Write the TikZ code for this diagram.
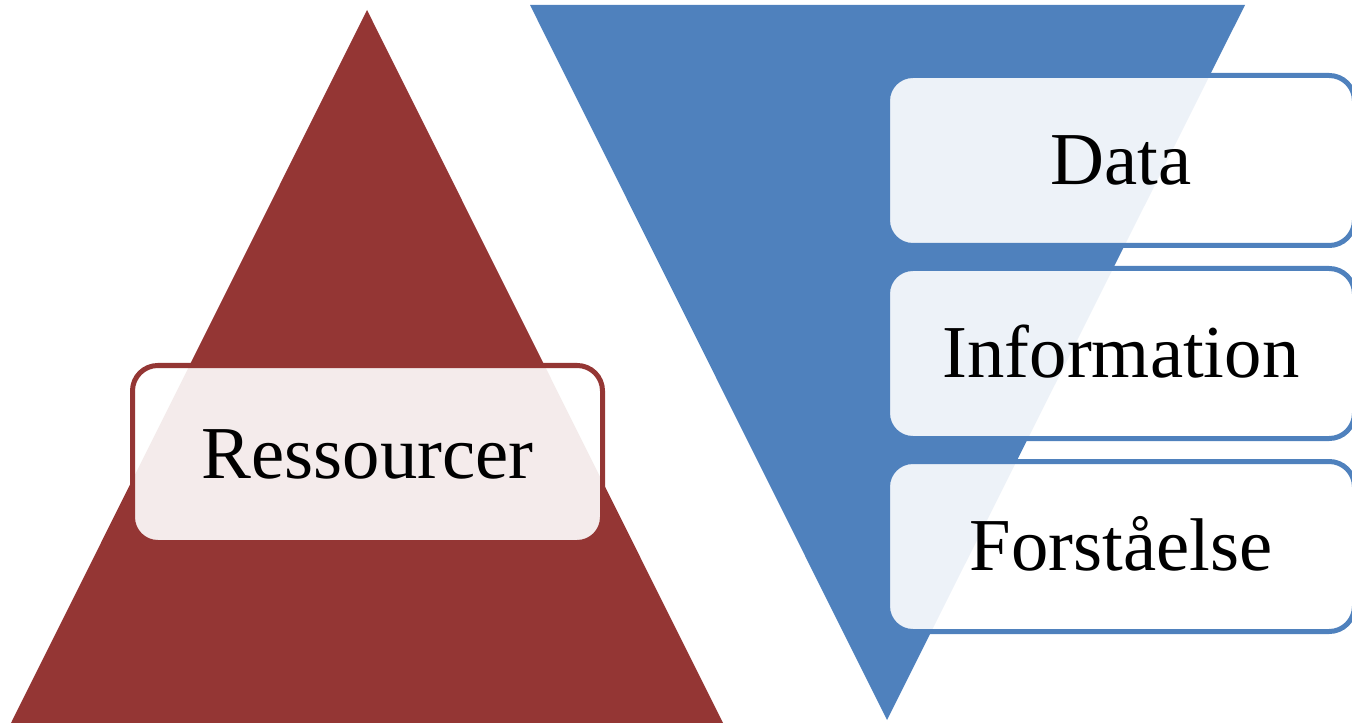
\documentclass[tikz,border=0pt]{standalone}
\usepackage{fontspec}
\setmainfont{Liberation Serif}
\definecolor{redtri}{HTML}{943634}
\definecolor{bluetri}{HTML}{4F81BD}
\tikzset{
  boxbase/.style={rectangle, rounded corners=19pt, line width=3.75pt,
    fill=white, fill opacity=0.9, text opacity=1, draw opacity=1,
    inner sep=0pt, text height=36pt, text depth=0pt,
    font=\fontsize{56}{64}\selectfont},
  redbox/.style={boxbase, draw=redtri, minimum width=352.5pt, minimum height=132.75pt},
  bluebox/.style={boxbase, draw=bluetri, minimum width=350.25pt, minimum height=127.5pt},
}
\begin{document}
\begin{tikzpicture}[x=0.75pt,y=-0.75pt]
\useasboundingbox (0,0) rectangle (1352,723);
\clip (0,0) rectangle (1352,723);
% triangles
\fill[redtri] (367,10) -- (724,725) -- (10,725) -- cycle;
\fill[bluetri] (530,5) -- (1245,5) -- (887,720) -- cycle;
% boxes
\node[redbox] (res) at (367.5,454) {Ressourcer};
\node[bluebox] (data) at (1121,160.5) {Data};
\node[bluebox] (info) at (1121,353.5) {Information};
\node[bluebox] (forst) at (1121,546.5) {Forståelse};
\end{tikzpicture}
\end{document}
